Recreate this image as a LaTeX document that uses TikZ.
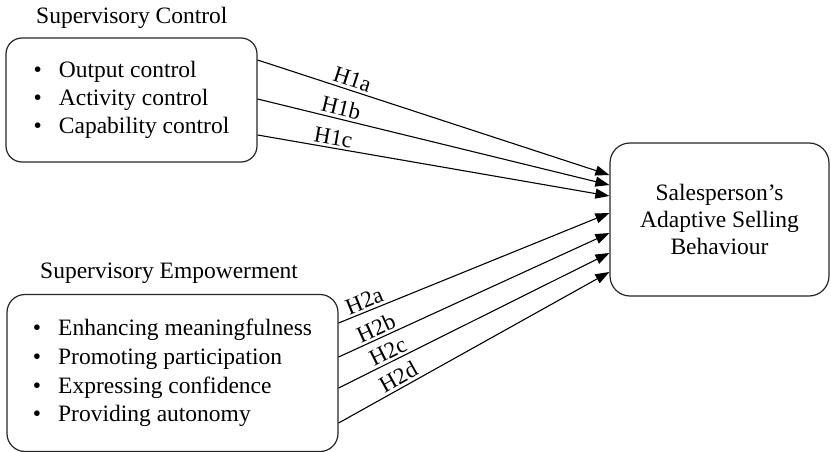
\documentclass[tikz,border=0pt]{standalone}
\usepackage{fontspec}
\setmainfont{Liberation Serif}
\usetikzlibrary{arrows.meta,calc}
\begin{document}
\begin{tikzpicture}[x=1pt,y=-1pt,
  box/.style={draw=black!85, line width=1.2pt, inner sep=0pt, align=center},
  hyp/.style={draw=black, line width=1.1pt, -{Triangle[length=14pt,width=10pt]}},
  lab/.style={sloped, above, inner sep=2.5pt, font=\fontsize{23}{27}\selectfont},
  ttl/.style={anchor=base west, inner sep=0pt, font=\fontsize{23.5}{28}\selectfont}]
\useasboundingbox (0,0) rectangle (831,452);
% boxes
\node[box, rounded corners=16pt, minimum width=251pt, minimum height=124pt,
      font=\fontsize{23.5}{27.5}\selectfont] (ctrl) at (131.5,100)
  {\begin{tabular}{@{}l@{\hspace{17pt}}l@{}}
   \textbullet & Output control\\
   \textbullet & Activity control\\
   \textbullet & Capability control
   \end{tabular}};
\node[box, rounded corners=18pt, minimum width=331pt, minimum height=157pt,
      font=\fontsize{23.5}{28.7}\selectfont] (emp) at (172.5,373)
  {\begin{tabular}{@{}l@{\hspace{17pt}}l@{}}
   \textbullet & Enhancing meaningfulness\\
   \textbullet & Promoting participation\\
   \textbullet & Expressing confidence\\
   \textbullet & Providing autonomy
   \end{tabular}};
\node[box, rounded corners=20pt, minimum width=219pt, minimum height=153pt,
      font=\fontsize{23.5}{27}\selectfont] (sab) at (719.5,219.5)
  {Salesperson's\\Adaptive Selling\\Behaviour};
% titles
\node[ttl] (tctrl) at (36,24) {Supervisory Control};
\node[ttl] (temp) at (40,278) {Supervisory Empowerment};
% connector end points
\coordinate (a1) at (ctrl.east |- 0,60);
\coordinate (a2) at (ctrl.east |- 0,99);
\coordinate (a3) at (ctrl.east |- 0,135);
\coordinate (b1) at (emp.east |- 0,323);
\coordinate (b2) at (emp.east |- 0,357);
\coordinate (b3) at (emp.east |- 0,388);
\coordinate (b4) at (emp.east |- 0,423);
\coordinate (e1) at (sab.west |- 0,175);
\coordinate (e2) at (sab.west |- 0,185);
\coordinate (e3) at (sab.west |- 0,196);
\coordinate (f1) at (sab.west |- 0,213);
\coordinate (f2) at (sab.west |- 0,233);
\coordinate (f3) at (sab.west |- 0,253);
\coordinate (f4) at (sab.west |- 0,272);
% hypotheses
\draw[hyp] (a1) -- node[lab,pos=.26] {H1a} (e1);
\draw[hyp] (a2) -- node[lab,pos=.23] {H1b} (e2);
\draw[hyp] (a3) -- node[lab,pos=.21] {H1c} (e3);
\draw[hyp] (b1) -- node[lab,pos=.11] {H2a} (f1);
\draw[hyp] (b2) -- node[lab,pos=.155] {H2b} (f2);
\draw[hyp] (b3) -- node[lab,pos=.20] {H2c} (f3);
\draw[hyp] (b4) -- node[lab,pos=.24] {H2d} (f4);
\end{tikzpicture}
\end{document}
